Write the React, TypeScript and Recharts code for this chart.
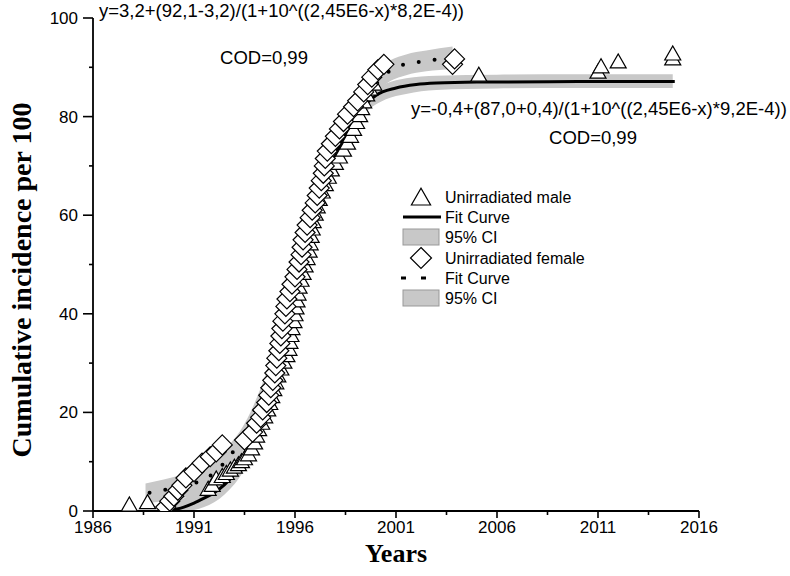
import { ComposedChart, Scatter, Line, Area, XAxis, YAxis } from 'recharts';

// unirradiated male (triangles)
const maleX = [
  1987.8, 1988.7, 1991.7, 1991.9, 1992.1, 1992.4, 1992.6, 1992.8, 1993.0, 1993.2,
  1993.35, 1993.5, 1993.7, 1993.85, 1994.0, 1994.1, 1994.2, 1994.35, 1994.5, 1994.65,
  1994.75, 1994.85, 1994.95, 1995.05, 1995.15, 1995.3, 1995.45, 1995.6, 1995.7, 1995.75,
  1995.8, 1995.85, 1995.95, 1996.0, 1996.05, 1996.1, 1996.15, 1996.2, 1996.3, 1996.4,
  1996.5, 1996.6, 1996.7, 1996.75, 1996.8, 1996.85, 1996.9, 1997.0, 1997.1, 1997.2,
  1997.35, 1997.5, 1997.65, 1997.8, 1998.0, 1998.2, 1998.4, 1998.6, 1998.75, 1998.9,
  1999.05, 1999.2, 1999.3, 1999.4, 1999.55, 1999.7, 1999.9, 2005.1, 2011.0, 2011.15,
  2012.0, 2014.7, 2014.7,
];
const maleY = [
  1.0, 1.5, 4.2, 5.0, 6.3, 6.8, 7.4, 8.1, 8.7, 9.2,
  9.8, 10.4, 11.2, 12.4, 13.6, 15.0, 16.3, 17.6, 18.9, 20.3,
  21.6, 23.0, 24.4, 25.8, 27.2, 28.6, 30.0, 31.3, 32.6, 34.0,
  35.4, 36.8, 38.2, 39.6, 41.0, 42.4, 43.8, 45.2, 46.6, 48.0,
  49.5, 51.0, 52.5, 54.0, 55.5, 57.0, 58.5, 60.0, 61.5, 63.0,
  64.5, 66.0, 67.5, 69.0, 70.3, 71.6, 73.0, 74.4, 75.8, 77.2,
  78.6, 80.0, 81.4, 82.8, 84.2, 85.4, 86.4, 88.2, 88.8, 89.9,
  90.9, 91.5, 92.5,
];

// unirradiated female (diamonds)
const femaleX = [
  1989.6, 1989.8, 1990.0, 1990.2, 1990.4, 1990.6, 1991.0, 1991.4, 1991.8, 1992.1,
  1992.4, 1993.5, 1993.9, 1994.1, 1994.3, 1994.4, 1994.6, 1994.7, 1994.8, 1994.9,
  1995.0, 1995.05, 1995.1, 1995.2, 1995.25, 1995.3, 1995.35, 1995.4, 1995.5, 1995.55,
  1995.6, 1995.75, 1995.85, 1996.0, 1996.1, 1996.2, 1996.3, 1996.35, 1996.4, 1996.5,
  1996.6, 1996.75, 1996.85, 1997.0, 1997.1, 1997.2, 1997.3, 1997.4, 1997.45, 1997.5,
  1997.6, 1997.8, 1998.0, 1998.2, 1998.4, 1998.6, 1998.9, 1999.1, 1999.4, 1999.6,
  1999.8, 2000.1, 2000.4, 2003.8, 2003.9,
];
const femaleY = [
  0.8, 2.0, 3.0, 4.2, 5.2, 6.7, 8.0, 9.7, 11.0, 12.0,
  13.4, 14.4, 16.0, 17.8, 19.0, 20.5, 22.0, 23.5, 25.0, 26.5,
  28.0, 29.5, 31.0, 32.5, 34.0, 35.5, 37.0, 38.5, 40.0, 41.5,
  43.0, 44.5, 46.0, 47.5, 49.0, 50.5, 52.0, 53.5, 55.0, 56.5,
  58.0, 59.5, 61.0, 62.5, 64.0, 65.5, 67.0, 68.5, 70.0, 71.5,
  73.0, 74.5, 76.0, 77.5, 79.0, 80.5, 82.0, 83.2, 85.0, 86.5,
  88.0, 89.5, 90.6, 90.6, 91.7,
];

// fit curves
const maleFitX = [
  1989.7, 1990.5, 1991.0, 1991.5, 1992.0, 1992.5, 1993.0, 1993.5, 1994.0, 1994.5,
  1995.0, 1995.5, 1996.0, 1996.5, 1997.0, 1997.5, 1998.0, 1998.5, 1999.0, 1999.5,
  2000.0, 2001.0, 2002.0, 2003.0, 2005.0, 2010.0, 2014.8,
];
const maleFitY = [
  0, 0.8, 1.6, 2.6, 3.7, 5.3, 7.5, 10.5, 14.8, 20.5,
  27.5, 35.5, 44, 52.5, 60, 66.5, 72, 76.5, 80, 82.5,
  84.3, 85.8, 86.5, 86.8, 87.0, 87.1, 87.1,
];
const femaleFitX = [
  1988.8, 1989.8, 1990.7, 1991.6, 1992.3, 1992.9, 1993.6, 1994.0, 1994.5, 1995.0,
  1995.5, 1996.0, 1996.5, 1997.0, 1997.5, 1998.0, 1998.5, 1999.0, 1999.5, 2000.0,
  2000.6, 2001.2, 2002.2, 2003.1, 2003.8,
];
const femaleFitY = [
  3.7, 4.5, 5.3, 6.6, 8.9, 11.8, 15.8, 20.5, 25, 31,
  39, 46, 53.5, 61, 67.5, 72.5, 76.5, 80.5, 84, 86.5,
  89, 90.3, 91.1, 91.6, 91.9,
];

// 95% confidence bands
const maleCiX = [
  1989.6, 1990.5, 1991.5, 1992.5, 1993.5, 1994.5, 1995.5, 1996.5, 1997.5, 1998.5,
  1999.5, 2000.5, 2001.5, 2003, 2006, 2010, 2014.7,
];
const maleCiLo = [0, 0, 0.8, 3.3, 8.5, 18.5, 33.5, 50.5, 64.5, 74.8, 80.8, 83.5, 84.6, 85.4, 85.7, 85.8, 85.8];
const maleCiHi = [1.2, 2.6, 4.4, 7.3, 12.5, 22.5, 37.5, 54.5, 68.5, 78.2, 84.2, 86.7, 87.8, 88.3, 88.5, 88.6, 88.6];

const femaleCiX = [
  1988.6, 1989.5, 1990.5, 1991.5, 1992.5, 1993.5, 1994.5, 1995.5, 1996.5, 1997.5,
  1998.5, 1999.5, 2000.5, 2001.5, 2002.5, 2003.8,
];
const femaleCiLo = [1.6, 2.0, 2.7, 3.8, 7.2, 12.7, 22.8, 37, 51.5, 65.5, 74.5, 82, 86.6, 88.4, 89.2, 89.6];
const femaleCiHi = [5.6, 6.4, 7.5, 9.0, 12.4, 17.7, 27.2, 41, 55.5, 69.5, 78.5, 86, 90.8, 92.6, 93.4, 94.2];

const xTicks = [1986, 1988.5, 1991, 1993.5, 1996, 1998.5, 2001, 2003.5, 2006, 2008.5, 2011, 2013.5, 2016];
const yTicks = [0, 10, 20, 30, 40, 50, 60, 70, 80, 90, 100];

const pairs = (xs: number[], ys: number[]) => xs.map((x, i) => ({ x, y: ys[i] }));
const band = (xs: number[], lo: number[], hi: number[]) => xs.map((x, i) => ({ x, ci: [lo[i], hi[i]] }));

const maleData = pairs(maleX, maleY);
const femaleData = pairs(femaleX, femaleY);
const maleFit = pairs(maleFitX, maleFitY);
const femaleFit = pairs(femaleFitX, femaleFitY);
const maleCi = band(maleCiX, maleCiLo, maleCiHi);
const femaleCi = band(femaleCiX, femaleCiLo, femaleCiHi);

const SANS = '"Liberation Sans", Arial, sans-serif';
const SERIF = '"Liberation Serif", "Times New Roman", serif';
const BAND = '#c8c8c8';
const PLOT_LEFT = 93;
const PLOT_BOTTOM = 511;

function Tri({ cx, cy, s = 1 }: any) {
  return (
    <polygon
      points={`${cx - 8 * s},${cy + 5 * s} ${cx + 8 * s},${cy + 5 * s} ${cx},${cy - 9 * s}`}
      fill="#fff"
      stroke="#000"
      strokeWidth={1.2}
    />
  );
}

function Dia({ cx, cy, s = 1 }: any) {
  const r = 10 * s;
  return (
    <polygon
      points={`${cx},${cy - r} ${cx + r},${cy} ${cx},${cy + r} ${cx - r},${cy}`}
      fill="#fff"
      stroke="#000"
      strokeWidth={1.2}
    />
  );
}

function XTick(props: any) {
  const { x, payload } = props;
  const v = payload.value;
  const major = (v - 1986) % 5 === 0;
  return (
    <g>
      <line x1={x} x2={x} y1={PLOT_BOTTOM} y2={PLOT_BOTTOM + (major ? 7 : 4)} stroke="#000" strokeWidth={1.6} />
      {major && (
        <text x={x} y={PLOT_BOTTOM + 22} textAnchor="middle" fontSize={17} fontFamily={SANS} fill="#000">
          {v}
        </text>
      )}
    </g>
  );
}

function YTick(props: any) {
  const { y, payload } = props;
  const v = payload.value;
  const major = v % 20 === 0;
  return (
    <g>
      <line x1={PLOT_LEFT - (major ? 10 : 4)} x2={PLOT_LEFT} y1={y} y2={y} stroke="#000" strokeWidth={1.6} />
      {major && (
        <text x={PLOT_LEFT - 15} y={y + 6} textAnchor="end" fontSize={17} fontFamily={SANS} fill="#000">
          {v}
        </text>
      )}
    </g>
  );
}

function Overlay() {
  const t = { fontFamily: SANS, fontSize: 16, fill: '#000' };
  const eq = { fontFamily: SANS, fontSize: 18.5, fill: '#000' };
  return (
    <svg width={790} height={576} style={{ position: 'absolute', left: 0, top: 0, pointerEvents: 'none' }}>
      <text x={99} y={17} {...eq}>y=3,2+(92,1-3,2)/(1+10^((2,45E6-x)*8,2E-4))</text>
      <text x={264} y={64} textAnchor="middle" {...eq}>COD=0,99</text>
      <text x={411} y={115} {...eq}>y=-0,4+(87,0+0,4)/(1+10^((2,45E6-x)*9,2E-4))</text>
      <text x={593} y={144} textAnchor="middle" {...eq}>COD=0,99</text>

      <Tri cx={421} cy={199} s={1.2} />
      <text x={445} y={203} {...t}>Unirradiated male</text>
      <line x1={403} x2={441} y1={217} y2={217} stroke="#000" strokeWidth={3} />
      <text x={445} y={223} {...t}>Fit Curve</text>
      <rect x={403} y={229} width={36} height={16} fill={BAND} stroke="#999" strokeWidth={1} />
      <text x={445} y={243} {...t}>95% CI</text>
      <Dia cx={421} cy={258} s={1.05} />
      <text x={445} y={264} {...t}>Unirradiated female</text>
      <rect x={401} y={276.5} width={5} height={3} fill="#000" />
      <rect x={421} y={276.5} width={5} height={3} fill="#000" />
      <text x={445} y={284} {...t}>Fit Curve</text>
      <rect x={403} y={290} width={36} height={16} fill={BAND} stroke="#999" strokeWidth={1} />
      <text x={445} y={304} {...t}>95% CI</text>

      <text
        transform="translate(31,280) rotate(-90)"
        textAnchor="middle"
        fontFamily={SERIF}
        fontWeight="bold"
        fontSize={28}
        fill="#000"
      >
        Cumulative incidence per 100
      </text>
      <text x={396} y={562} textAnchor="middle" fontFamily={SERIF} fontWeight="bold" fontSize={26} fill="#000">
        Years
      </text>
    </svg>
  );
}

export default function App() {
  return (
    <div style={{ position: 'absolute', left: 0, top: 0, width: 790, height: 576, background: '#fff' }}>
      <ComposedChart width={790} height={576} margin={{ top: 18, right: 91, bottom: 25, left: 33 }}>
        <XAxis
          dataKey="x"
          type="number"
          domain={[1986, 2016]}
          ticks={xTicks}
          interval={0}
          height={40}
          tickSize={0}
          tickMargin={0}
          tickLine={false}
          tick={<XTick />}
          axisLine={{ stroke: '#000', strokeWidth: 1.8 }}
          allowDataOverflow
        />
        <YAxis
          type="number"
          domain={[0, 100]}
          ticks={yTicks}
          interval={0}
          width={60}
          tickSize={0}
          tickMargin={0}
          tickLine={false}
          tick={<YTick />}
          axisLine={{ stroke: '#000', strokeWidth: 1.8 }}
          allowDataOverflow
        />
        <Area data={maleCi} dataKey="ci" type="monotone" stroke="none" fill={BAND} fillOpacity={1} isAnimationActive={false} />
        <Area data={femaleCi} dataKey="ci" type="monotone" stroke="none" fill={BAND} fillOpacity={1} isAnimationActive={false} />
        <Scatter data={maleData} dataKey="y" shape={(p: any) => <Tri cx={p.cx} cy={p.cy} />} isAnimationActive={false} />
        <Line data={maleFit} dataKey="y" type="monotone" stroke="#000" strokeWidth={3} dot={false} isAnimationActive={false} />
        <Scatter data={femaleData} dataKey="y" shape={(p: any) => <Dia cx={p.cx} cy={p.cy} />} isAnimationActive={false} />
        <Line
          data={femaleFit}
          dataKey="y"
          type="monotone"
          stroke="#000"
          strokeWidth={4}
          strokeDasharray="0 16"
          strokeLinecap="round"
          dot={false}
          isAnimationActive={false}
        />
      </ComposedChart>
      <Overlay />
    </div>
  );
}
